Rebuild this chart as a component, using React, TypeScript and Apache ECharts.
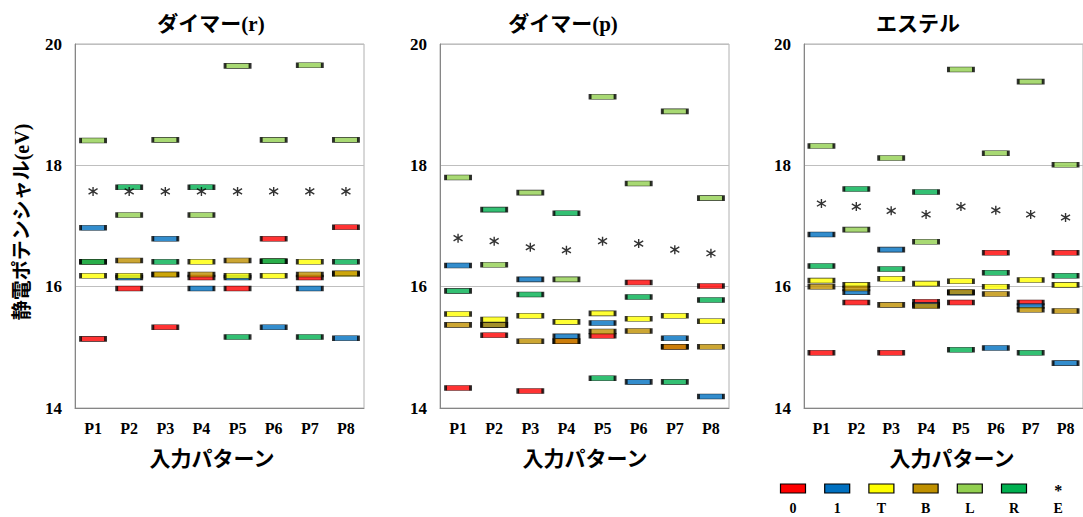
import React, { useEffect, useRef } from "react";
import * as echarts from "echarts";

const categories = ["P1", "P2", "P3", "P4", "P5", "P6", "P7", "P8"];
const seriesNames = ["0", "1", "T", "B", "L", "R", "E"];
const seriesColors = ["#FF0000", "#0070C0", "#FFFF00", "#BF9000", "#92D050", "#00B050", "#000000"];
const panelTitles = ["ダイマー(r)", "ダイマー(p)", "エステル"];
const yTicks = [14, 16, 18, 20];

// ダイマー(r)
const dimerR0 = [15.14, 15.97, 15.33, 16.15, 15.97, 16.79, 16.15, 16.98];
const dimerR1 = [16.97, 16.15, 16.79, 15.97, 16.15, 15.33, 15.97, 15.15];
const dimerRT = [16.18, 16.18, 16.2, 16.41, 16.18, 16.18, 16.41, 16.21];
const dimerRB = [16.41, 16.43, 16.2, 16.2, 16.43, 16.42, 16.2, 16.22];
const dimerRL = [18.41, 17.18, 18.42, 17.18, 19.64, 18.42, 19.65, 18.42];
const dimerRR = [16.41, 17.64, 16.41, 17.64, 15.17, 16.42, 15.17, 16.41];
const dimerRE = [17.57, 17.57, 17.57, 17.57, 17.57, 17.57, 17.57, 17.57];

// ダイマー(p)
const dimerP0 = [14.33, 15.2, 14.28, 15.1, 15.19, 16.07, 15.01, 16.01];
const dimerP1 = [16.35, 15.37, 16.12, 15.18, 15.4, 14.43, 15.15, 14.19];
const dimerPT = [15.55, 15.46, 15.52, 15.42, 15.56, 15.47, 15.52, 15.43];
const dimerPB = [15.37, 15.37, 15.1, 15.1, 15.26, 15.27, 15.01, 15.01];
const dimerPL = [17.8, 16.36, 17.55, 16.12, 19.13, 17.7, 18.89, 17.46];
const dimerPR = [15.93, 17.27, 15.87, 17.21, 14.49, 15.83, 14.43, 15.78];
const dimerPE = [16.8, 16.75, 16.65, 16.6, 16.75, 16.71, 16.61, 16.55];

// エステル
const ester0 = [14.91, 15.74, 14.91, 15.75, 15.74, 16.56, 15.74, 16.56];
const ester1 = [16.86, 15.91, 16.61, 15.7, 15.9, 14.99, 15.68, 14.74];
const esterT = [16.1, 16.03, 16.13, 16.05, 16.09, 16.0, 16.11, 16.03];
const esterB = [16.0, 15.97, 15.7, 15.68, 15.91, 15.88, 15.62, 15.6];
const esterL = [18.32, 16.94, 18.12, 16.74, 19.58, 18.2, 19.38, 18.01];
const esterR = [16.34, 17.61, 16.29, 17.56, 14.96, 16.23, 14.91, 16.18];
const esterE = [17.37, 17.32, 17.25, 17.19, 17.32, 17.26, 17.19, 17.14];

const panels = [
  [dimerR0, dimerR1, dimerRT, dimerRB, dimerRL, dimerRR, dimerRE],
  [dimerP0, dimerP1, dimerPT, dimerPB, dimerPL, dimerPR, dimerPE],
  [ester0, ester1, esterT, esterB, esterL, esterR, esterE],
];

const SERIF = "'Liberation Serif', 'Times New Roman', 'Noto Sans CJK JP', serif";
const JP = "'Noto Sans CJK JP', 'Noto Sans', sans-serif";
const STAR = "path://M5,0 L5,10 M0,2 L10,8 M0,8 L10,2";

const gridLefts = [75, 440, 804];
const titleX = [211, 563, 918];
const xTitleX = [212, 585, 952];

export default function App() {
  const ref = useRef<HTMLDivElement>(null);

  useEffect(() => {
    document.body.style.margin = "0";
    if (!ref.current) return;
    const chart = echarts.init(ref.current, undefined, { renderer: "svg" });

    const grids = gridLefts.map((l) => ({
      left: l,
      top: 44,
      width: 289,
      height: 364,
      show: true,
      borderColor: "#B0B0B0",
      borderWidth: 1,
      backgroundColor: "transparent",
    }));

    const xAxes = gridLefts.map((_, i) => ({
      type: "category",
      gridIndex: i,
      data: categories,
      boundaryGap: true,
      axisTick: { show: false },
      axisLine: { show: true, lineStyle: { color: "#868686", width: 1 } },
      axisLabel: {
        color: "#000",
        fontFamily: SERIF,
        fontWeight: "bold",
        fontSize: 16,
        margin: 12,
      },
      splitLine: { show: false },
    }));

    const yAxes = gridLefts.map((_, i) => ({
      type: "value",
      gridIndex: i,
      min: yTicks[0],
      max: yTicks[yTicks.length - 1],
      interval: 2,
      axisTick: { show: false },
      axisLine: { show: true, lineStyle: { color: "#868686", width: 1 } },
      axisLabel: {
        color: "#000",
        fontFamily: SERIF,
        fontWeight: "bold",
        fontSize: 17,
        margin: 13,
      },
      splitLine: { show: true, lineStyle: { color: "#BFBFBF", width: 1 } },
    }));

    const series: any[] = [];
    panels.forEach((panel, p) => {
      panel.forEach((vals, s) => {
        const isStar = seriesNames[s] === "E";
        series.push({
          type: "scatter",
          name: seriesNames[s],
          xAxisIndex: p,
          yAxisIndex: p,
          data: categories.map((c, i) => [c, vals[i]]),
          symbol: isStar ? STAR : "rect",
          symbolSize: isStar ? [9, 9] : [25, 5],
          itemStyle: isStar
            ? { color: "transparent", borderColor: "#000", borderWidth: 1.4 }
            : { color: seriesColors[s], borderColor: "#000", borderWidth: 1.3 },
          emphasis: { disabled: true },
          silent: true,
        });
      });
    });

    const graphic: any[] = [];
    panelTitles.forEach((t, i) => {
      graphic.push({
        type: "text",
        x: titleX[i],
        y: 24,
        style: {
          text: t,
          fontFamily: SERIF,
          fontWeight: "bold",
          fontSize: 21,
          fill: "#000",
          textAlign: "center",
          textVerticalAlign: "middle",
        },
      });
      graphic.push({
        type: "text",
        x: xTitleX[i],
        y: 457,
        style: {
          text: "入力パターン",
          fontFamily: JP,
          fontWeight: "bold",
          fontSize: 21,
          fill: "#000",
          textAlign: "center",
          textVerticalAlign: "middle",
        },
      });
    });
    graphic.push({
      type: "text",
      x: 22,
      y: 222,
      rotation: Math.PI / 2,
      style: {
        text: "静電ポテンシャル(eV)",
        fontFamily: SERIF,
        fontWeight: "bold",
        fontSize: 20,
        fill: "#000",
        textAlign: "center",
        textVerticalAlign: "middle",
      },
    });

    // legend
    const legendX0 = 793;
    const legendStep = 44.2;
    seriesNames.forEach((n, i) => {
      const cx = legendX0 + legendStep * i;
      if (n === "E") {
        graphic.push({
          type: "text",
          x: cx,
          y: 490,
          style: {
            text: "*",
            fontFamily: SERIF,
            fontWeight: "bold",
            fontSize: 16,
            fill: "#000",
            textAlign: "center",
            textVerticalAlign: "middle",
          },
        });
      } else {
        graphic.push({
          type: "rect",
          shape: { x: cx - 12.5, y: 484, width: 25, height: 9 },
          style: { fill: seriesColors[i], stroke: "#000", lineWidth: 1.2 },
        });
      }
      graphic.push({
        type: "text",
        x: cx,
        y: 508,
        style: {
          text: n,
          fontFamily: SERIF,
          fontWeight: "bold",
          fontSize: 14,
          fill: "#000",
          textAlign: "center",
          textVerticalAlign: "middle",
        },
      });
    });

    chart.setOption({
      animation: false,
      backgroundColor: "#fff",
      grid: grids,
      xAxis: xAxes,
      yAxis: yAxes,
      series,
      graphic,
    });

    return () => chart.dispose();
  }, []);

  return <div ref={ref} style={{ width: 1083, height: 517 }} />;
}
